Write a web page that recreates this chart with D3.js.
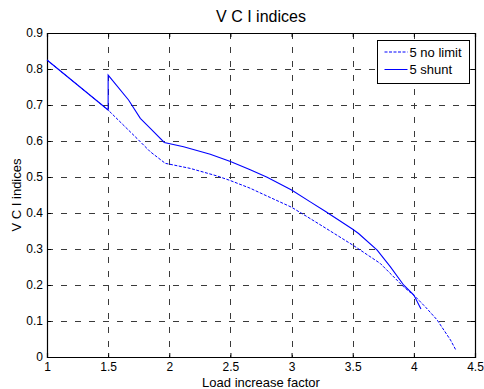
<!DOCTYPE html>
<html>
<head>
<meta charset="utf-8">
<script src="https://cdn.jsdelivr.net/npm/d3@7"></script>
<style>
  body { margin: 0; background: #fff; }
  svg { display: block; font-family: "Liberation Sans", Arial, sans-serif; }
</style>
</head>
<body>
<svg id="chart" width="484" height="389"></svg>
<script>
// ---- data ----
const titleText = "V C I indices";
const xLabel = "Load increase factor";
const yLabel = "V C I indices";
const xTicks = [1, 1.5, 2, 2.5, 3, 3.5, 4, 4.5];
const yTicks = [0, 0.1, 0.2, 0.3, 0.4, 0.5, 0.6, 0.7, 0.8, 0.9];
const seriesNames = ["5 no limit", "5 shunt"];

const noLimitX = [1, 1.5, 1.736, 1.845, 1.967, 2.17, 2.39, 2.5, 2.66, 2.8, 3.0, 3.126, 3.25, 3.5, 3.725, 3.916, 4.011, 4.1, 4.19, 4.3, 4.344];
const noLimitY = [0.825, 0.686, 0.607, 0.570, 0.538, 0.524, 0.503, 0.49, 0.469, 0.447, 0.416, 0.39, 0.364, 0.311, 0.26, 0.195, 0.168, 0.137, 0.103, 0.047, 0.019];

const shuntX = [1, 1.5, 1.5, 1.667, 1.763, 1.845, 1.959, 2.117, 2.335, 2.5, 2.662, 2.8, 3.0, 3.153, 3.275, 3.5, 3.548, 3.70, 3.807, 3.916, 4.0, 4.058];
const shuntY = [0.825, 0.686, 0.783, 0.714, 0.663, 0.635, 0.596, 0.584, 0.563, 0.543, 0.52, 0.499, 0.464, 0.431, 0.405, 0.355, 0.343, 0.297, 0.251, 0.2, 0.172, 0.133];

// ---- layout ----
const svg = d3.select("#chart");
const L = 47, R = 475, T = 33, B = 357;
const x = d3.scaleLinear().domain([1, 4.5]).range([L, R]);
const y = d3.scaleLinear().domain([0, 0.9]).range([B, T]);
const blue = "#0000ff";

// grid
const grid = svg.append("g").attr("stroke", "#3a3a3a").attr("stroke-width", 1).attr("stroke-dasharray", "6,8");
grid.selectAll(".gx").data(xTicks.slice(1, -1)).join("line")
  .attr("x1", d => Math.round(x(d)) + 0.5).attr("x2", d => Math.round(x(d)) + 0.5)
  .attr("y1", T).attr("y2", B);
grid.selectAll(".gy").data(yTicks.slice(1, -1)).join("line")
  .attr("y1", d => Math.round(y(d)) + 0.5).attr("y2", d => Math.round(y(d)) + 0.5)
  .attr("x1", L).attr("x2", R);

// axes
const fontSize = 12;
const xAxis = d3.axisBottom(x).tickValues(xTicks).tickSize(-4).tickPadding(5).tickFormat(d3.format("~g"));
const yAxis = d3.axisLeft(y).tickValues(yTicks).tickSize(-4).tickPadding(4).tickFormat(d3.format("~g"));
const xTop = d3.axisTop(x).tickValues(xTicks).tickSize(-4).tickFormat("");
const yRight = d3.axisRight(y).tickValues(yTicks).tickSize(-4).tickFormat("");

function style(g) {
  g.selectAll("path").attr("stroke", "#000").attr("stroke-width", 1.2);
  g.selectAll("line").attr("stroke", "#000");
  g.selectAll("text").attr("fill", "#000").style("font-size", fontSize + "px")
    .style("font-family", '"Liberation Sans", Arial, sans-serif');
}
svg.append("g").attr("transform", `translate(0,${B})`).call(xAxis).call(style);
svg.append("g").attr("transform", `translate(${L},0)`).call(yAxis).call(style);
svg.append("g").attr("transform", `translate(0,${T})`).call(xTop).call(style);
svg.append("g").attr("transform", `translate(${R},0)`).call(yRight).call(style);

// lines
const line = d3.line().x(d => x(d[0])).y(d => y(d[1]));
const noLimit = noLimitX.map((v, i) => [v, noLimitY[i]]);
const shunt = shuntX.map((v, i) => [v, shuntY[i]]);
svg.append("path").datum(noLimit).attr("d", line).attr("fill", "none")
  .attr("stroke", blue).attr("stroke-width", 1).attr("stroke-dasharray", "3,1.5");
svg.append("path").datum(shunt).attr("d", line).attr("fill", "none")
  .attr("stroke", blue).attr("stroke-width", 1.1);

// title & labels
svg.append("text").attr("x", (L + R) / 2).attr("y", 22).attr("text-anchor", "middle")
  .style("font-size", "16px").text(titleText);
svg.append("text").attr("x", (L + R) / 2).attr("y", 387).attr("text-anchor", "middle")
  .style("font-size", "13px").text(xLabel);
svg.append("text").attr("transform", `translate(21,${(T + B) / 2}) rotate(-90)`).attr("text-anchor", "middle")
  .style("font-size", "13px").text(yLabel);

// legend
const lg = svg.append("g");
const lx = 377.5, ly = 40.5, lw = 92, lh = 43;
lg.append("rect").attr("x", lx).attr("y", ly).attr("width", lw).attr("height", lh)
  .attr("fill", "#fff").attr("stroke", "#000").attr("stroke-width", 1);
const dashes = ["3,1.5", null];
seriesNames.forEach((name, i) => {
  const yy = ly + 11.5 + i * 17.5;
  lg.append("line").attr("x1", lx + 7).attr("x2", lx + 30).attr("y1", yy).attr("y2", yy)
    .attr("stroke", blue).attr("stroke-width", 1).attr("stroke-dasharray", dashes[i]);
  lg.append("text").attr("x", lx + 32).attr("y", yy + 4.5).style("font-size", "13px").text(name);
});
</script>
</body>
</html>
